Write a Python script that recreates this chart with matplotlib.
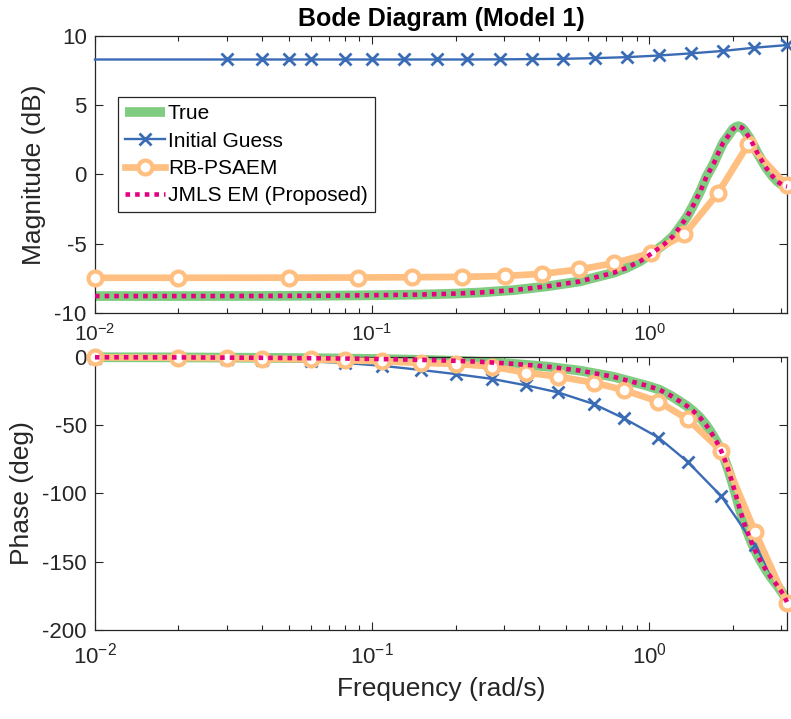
import matplotlib
matplotlib.use('Agg')
import matplotlib.pyplot as plt
import numpy as np
from matplotlib.lines import Line2D

plt.rcParams['font.family'] = ['Liberation Sans', 'DejaVu Sans']
plt.rcParams['axes.unicode_minus'] = False

PI = np.pi

# ---- True system ----
true_f_mag = [0.01, 0.02, 0.04, 0.07, 0.1, 0.15, 0.2, 0.245, 0.324, 0.427, 0.475, 0.563,
              0.63, 0.743, 0.83, 0.93, 1.03, 1.13, 1.22, 1.29, 1.37, 1.44, 1.53, 1.61,
              1.71, 1.78, 1.85, 1.93, 2.0, 2.05, 2.1, 2.16, 2.22, 2.3, 2.38, 2.45, 2.55,
              2.65, 2.78, 2.9, 3.05, PI]
true_mag = [-8.78, -8.78, -8.77, -8.75, -8.72, -8.67, -8.6, -8.52, -8.35, -8.08, -7.94, -7.72,
            -7.46, -7.1, -6.74, -6.25, -5.65, -5.05, -4.45, -3.8, -3.05, -2.25, -1.2, -0.15,
            0.8, 1.6, 2.3, 2.8, 3.25, 3.42, 3.49, 3.38, 3.1, 2.65, 2.1, 1.6, 1.0,
            0.45, -0.1, -0.5, -0.82, -0.88]

true_f_ph = [0.01, 0.02, 0.04, 0.07, 0.1, 0.15, 0.2, 0.245, 0.324, 0.427, 0.563, 0.743,
             0.98, 1.09, 1.2, 1.29, 1.37, 1.44, 1.52, 1.6, 1.67, 1.75, 1.82, 1.88, 1.94,
             2.0, 2.06, 2.12, 2.18, 2.25, 2.32, 2.4, 2.5, 2.62, 2.75, 2.9, 3.05, PI]
true_ph = [-0.2, -0.3, -0.6, -1.0, -1.4, -2.1, -2.8, -3.5, -5.0, -7.0, -10.0, -14.5,
           -21.0, -24.0, -28.5, -32.5, -36.0, -39.5, -44.0, -49.5, -55.0, -62.0, -69.0, -76.0, -84.0,
           -93.0, -102.0, -111.0, -119.0, -127.0, -134.0, -141.0, -148.0, -155.0, -161.5, -167.5,
           -174.0, -179.5]

# ---- Initial guess ----
ig_f_mag = [0.01, 0.02, 0.03, 0.04, 0.05, 0.06, 0.08, 0.1, 0.13, 0.172, 0.22, 0.29, 0.378,
            0.49, 0.638, 0.834, 1.087, 1.41, 1.85, 2.39, PI]
ig_mag = [8.3, 8.3, 8.3, 8.3, 8.3, 8.3, 8.3, 8.3, 8.3, 8.3, 8.3, 8.31, 8.33,
          8.35, 8.4, 8.47, 8.59, 8.74, 8.92, 9.15, 9.34]

ig_f_ph = [0.01, 0.02, 0.03, 0.04, 0.06, 0.08, 0.109, 0.15, 0.2, 0.27, 0.36, 0.47, 0.63,
           0.81, 1.08, 1.38, 1.82, 2.41, PI]
ig_ph = [-0.5, -1.0, -1.6, -2.1, -3.2, -4.4, -6.5, -9.5, -12.5, -16.0, -20.8, -26.0, -34.4,
         -44.9, -59.0, -77.0, -102.0, -138.0, -180.0]

# ---- RB-PSAEM ----
rb_f_mag = [0.01, 0.02, 0.05, 0.089, 0.139, 0.211, 0.302, 0.411, 0.559, 0.748, 1.016, 1.34,
            1.77, 2.28, PI]
rb_mag = [-7.46, -7.46, -7.45, -7.44, -7.42, -7.39, -7.33, -7.17, -6.86, -6.4, -5.67, -4.33,
          -1.35, 2.2, -0.79]

rb_f_ph = [0.01, 0.02, 0.03, 0.04, 0.06, 0.08, 0.109, 0.15, 0.2, 0.27, 0.36, 0.47, 0.63,
           0.81, 1.08, 1.38, 1.82, 2.41, PI]
rb_ph = [-0.3, -0.6, -0.9, -1.2, -1.8, -2.4, -3.2, -4.4, -5.0, -7.0, -11.5, -14.4, -18.8,
         -24.2, -32.7, -45.7, -68.8, -128.0, -180.0]

# ---- JMLS EM (proposed), lies on the true curve ----
em_f_mag = list(true_f_mag)
em_mag = list(true_mag)
em_f_ph = list(true_f_ph)
em_ph = list(true_ph)

c_true = '#80CC80'
c_ig = '#3A6BB5'
c_rb = '#FFBF80'
c_em = '#E6007F'
dark = '#262626'

fig = plt.figure(figsize=(7.91, 7.19), dpi=100)
ax1 = fig.add_axes([0.1201, 0.5647, 0.8748, 0.3853])
ax2 = fig.add_axes([0.1201, 0.1238, 0.8748, 0.3797])


def draw(ax, ft, yt, fi, yi, mi, fr, yr, fe, ye):
    ax.plot(ft, yt, color=c_true, lw=7, solid_capstyle='butt', clip_on=False, zorder=2)
    ax.plot(fi, yi, color=c_ig, lw=1.7, marker='x', ms=8, mew=2, markevery=mi,
            clip_on=False, zorder=3)
    ax.plot(fr, yr, color=c_rb, lw=4.8, marker='o', ms=10, mew=3, mfc='white',
            clip_on=False, zorder=4)
    ax.plot(fe, ye, color=c_em, lw=3.3, linestyle=(0, (1, 1.1)), dash_capstyle='butt',
            clip_on=False, zorder=5)


draw(ax1, true_f_mag, true_mag, ig_f_mag, ig_mag, list(range(2, len(ig_f_mag))),
     rb_f_mag, rb_mag, em_f_mag, em_mag)
draw(ax2, true_f_ph, true_ph, ig_f_ph, ig_ph, None,
     rb_f_ph, rb_ph, em_f_ph, em_ph)

for ax in (ax1, ax2):
    ax.set_xscale('log')
    ax.set_xlim(0.01, PI)
    ax.tick_params(which='both', direction='in', top=True, right=True, colors=dark,
                   labelsize=16, width=0.8)
    ax.tick_params(which='major', length=6, pad=6)
    ax.tick_params(which='minor', length=3.5)
    for s in ax.spines.values():
        s.set_color(dark)
        s.set_linewidth(0.9)

ax1.tick_params(axis='x', which='major', pad=7, labelsize=15)
ax2.tick_params(axis='x', which='major', pad=9)

ax1.set_ylim(-10, 10)
ax1.set_yticks([-10, -5, 0, 5, 10])
ax2.set_ylim(-200, 0)
ax2.set_yticks([-200, -150, -100, -50, 0])

ax1.set_ylabel('Magnitude (dB)', fontsize=19, color=dark, labelpad=6)
ax2.set_ylabel('Phase (deg)', fontsize=19, color=dark, labelpad=6)
ax2.set_xlabel('Frequency (rad/s)', fontsize=19, color=dark, labelpad=6)
ax1.set_title('Bode Diagram (Model 1)', fontsize=18, fontweight='bold', pad=7)

handles = [
    Line2D([], [], color=c_true, lw=7, solid_capstyle='butt'),
    Line2D([], [], color=c_ig, lw=1.7, marker='x', ms=8, mew=2),
    Line2D([], [], color=c_rb, lw=4.8, marker='o', ms=10, mew=3, mfc='white'),
    Line2D([], [], color=c_em, lw=3.3, linestyle=(0, (1, 1.1)), dash_capstyle='butt'),
]
labels = ['True', 'Initial Guess', 'RB-PSAEM', 'JMLS EM (Proposed)']
leg = ax1.legend(handles, labels, loc='upper left', bbox_to_anchor=(0.033, 0.78),
                 borderaxespad=0, fontsize=15, frameon=True, fancybox=False,
                 framealpha=1, edgecolor=dark, handlelength=1.9, handletextpad=0.15,
                 labelspacing=0.4, borderpad=0.35)
leg.get_frame().set_linewidth(0.9)

fig.savefig('out.png', dpi=100)
